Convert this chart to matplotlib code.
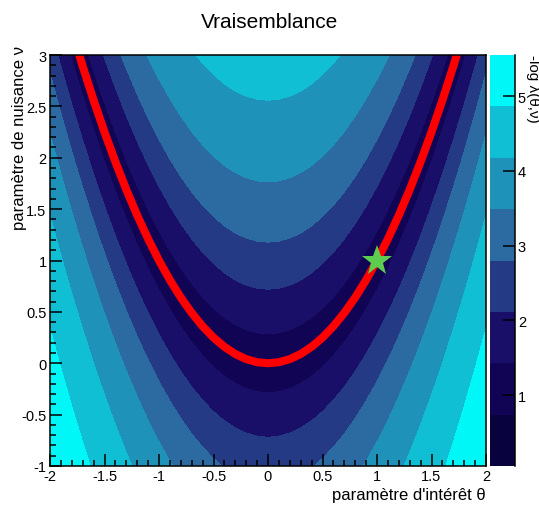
import numpy as np
import matplotlib
matplotlib.use("Agg")
import matplotlib.pyplot as plt
from matplotlib.ticker import FixedLocator, FixedFormatter, MultipleLocator

plt.rcParams['font.family'] = ['Liberation Sans', 'DejaVu Sans']
plt.rcParams['axes.unicode_minus'] = False

# ---------------- texts ----------------
title = "Vraisemblance"
x_label = "paramètre d'intérêt θ"
y_label = "paramètre de nuisance ν"
z_label = "-log λ(θ,ν)"

# ---------------- data ----------------
# red profile curve (valley bottom)
profile_theta = [-2.0, -1.9, -1.8, -1.7, -1.6, -1.5, -1.4, -1.3, -1.2, -1.1, -1.0,
                 -0.9, -0.8, -0.7, -0.6, -0.5, -0.4, -0.3, -0.2, -0.1, 0.0,
                 0.1, 0.2, 0.3, 0.4, 0.5, 0.6, 0.7, 0.8, 0.9, 1.0,
                 1.1, 1.2, 1.3, 1.4, 1.5, 1.6, 1.7, 1.8, 1.9, 2.0]
profile_nu = [4.00, 3.61, 3.24, 2.89, 2.56, 2.25, 1.96, 1.69, 1.44, 1.21, 1.00,
              0.81, 0.64, 0.49, 0.36, 0.25, 0.16, 0.09, 0.04, 0.01, 0.00,
              0.01, 0.04, 0.09, 0.16, 0.25, 0.36, 0.49, 0.64, 0.81, 1.00,
              1.21, 1.44, 1.69, 1.96, 2.25, 2.56, 2.89, 3.24, 3.61, 4.00]

# green star
star_theta = [1.0]
star_nu = [1.0]

# valley shape
valley_floor = 1.22      # value of -log lambda along the valley bottom
valley_scale = 1.0       # growth of -log lambda across the valley
valley_width = 0.6       # half width of the valley in nu

# palette axis
z_min, z_max, n_bands = 0.05, 5.55, 8
band_colors = ['#08033f', '#110454', '#190f69', '#243a84',
               '#2c6ba2', '#1f92b9', '#11bfd4', '#00f7f7']

x_ticks = [-2, -1.5, -1, -0.5, 0, 0.5, 1, 1.5, 2]
x_tick_labels = ['-2', '-1.5', '-1', '-0.5', '0', '0.5', '1', '1.5', '2']
y_ticks = [-1, -0.5, 0, 0.5, 1, 1.5, 2, 2.5, 3]
y_tick_labels = ['-1', '-0.5', '0', '0.5', '1', '1.5', '2', '2.5', '3']
z_ticks = [1, 2, 3, 4, 5]
z_tick_labels = ['1', '2', '3', '4', '5']

x_range = (-2, 2)
y_range = (-1, 3)

# ---------------- field ----------------
tg = np.linspace(x_range[0], x_range[1], 401)
ng = np.linspace(y_range[0], y_range[1], 401)
T, N = np.meshgrid(tg, ng)
valley = np.interp(T, profile_theta, profile_nu)
Z = valley_floor + valley_scale * np.log1p(((N - valley) / valley_width) ** 2)

levels = np.linspace(z_min, z_max, n_bands + 1)
fill_levels = levels.copy()
fill_levels[0] = min(Z.min(), z_min) - 1.0
fill_levels[-1] = max(Z.max(), z_max) + 1.0

# ---------------- figure ----------------
W, H = 539, 506
fig = plt.figure(figsize=(W / 100, H / 100), dpi=100)
fig.patch.set_facecolor('white')

L, R, T0, B = 50, 486, 56, 467
ax = fig.add_axes([L / W, 1 - B / H, (R - L) / W, (B - T0) / H])
ax.contourf(T, N, Z, levels=fill_levels, colors=band_colors, antialiased=False)
ax.plot(profile_theta, profile_nu, color='#ff0000', lw=5.8, solid_capstyle='butt', zorder=3)
ax.plot(star_theta, star_nu, linestyle='none', marker='*', ms=23, color='#5ccd4f',
        markeredgewidth=0, zorder=4)
ax.set_xlim(*x_range)
ax.set_ylim(*y_range)

ax.xaxis.set_major_locator(FixedLocator(x_ticks))
ax.xaxis.set_major_formatter(FixedFormatter(x_tick_labels))
ax.yaxis.set_major_locator(FixedLocator(y_ticks))
ax.yaxis.set_major_formatter(FixedFormatter(y_tick_labels))
ax.xaxis.set_minor_locator(MultipleLocator(0.1))
ax.yaxis.set_minor_locator(MultipleLocator(0.1))
ax.tick_params(which='both', direction='in', top=False, right=False, width=1.1, color='black')
ax.tick_params(which='major', length=8.6, labelsize=10.5, pad=2.5)
ax.tick_params(which='minor', length=4.3)
for s in ax.spines.values():
    s.set_linewidth(1.1)
    s.set_color('black')
    s.set_zorder(5)

# palette axis
cax = fig.add_axes([490 / W, 1 - B / H, 25 / W, (B - T0) / H])
for i in range(n_bands):
    cax.axhspan(levels[i], levels[i + 1], color=band_colors[i], lw=0)
cax.set_ylim(z_min, z_max)
cax.set_xlim(0, 1)
cax.xaxis.set_visible(False)
cax.yaxis.set_ticks_position('right')
cax.yaxis.set_major_locator(FixedLocator(z_ticks))
cax.yaxis.set_major_formatter(FixedFormatter(z_tick_labels))
cax.tick_params(direction='in', length=8.6, width=1.1, labelsize=10.5, pad=2)
for k in ['left', 'top', 'bottom']:
    cax.spines[k].set_visible(False)
cax.spines['right'].set_linewidth(1.1)

# texts
fig.text(0.5, 1 - 28 / H, title, ha='center', va='baseline', fontsize=15)
fig.text(R / W, 1 - 500 / H, x_label, ha='right', va='baseline', fontsize=12)
fig.text(24 / W, 1 - 46 / H, y_label, ha='right', va='baseline', rotation=90,
         rotation_mode='anchor', fontsize=12)
fig.text(529 / W, 1 - 55 / H, z_label, ha='left', va='baseline', rotation=-90,
         rotation_mode='anchor', fontsize=11)

fig.savefig('out.png', dpi=100, facecolor='white')
